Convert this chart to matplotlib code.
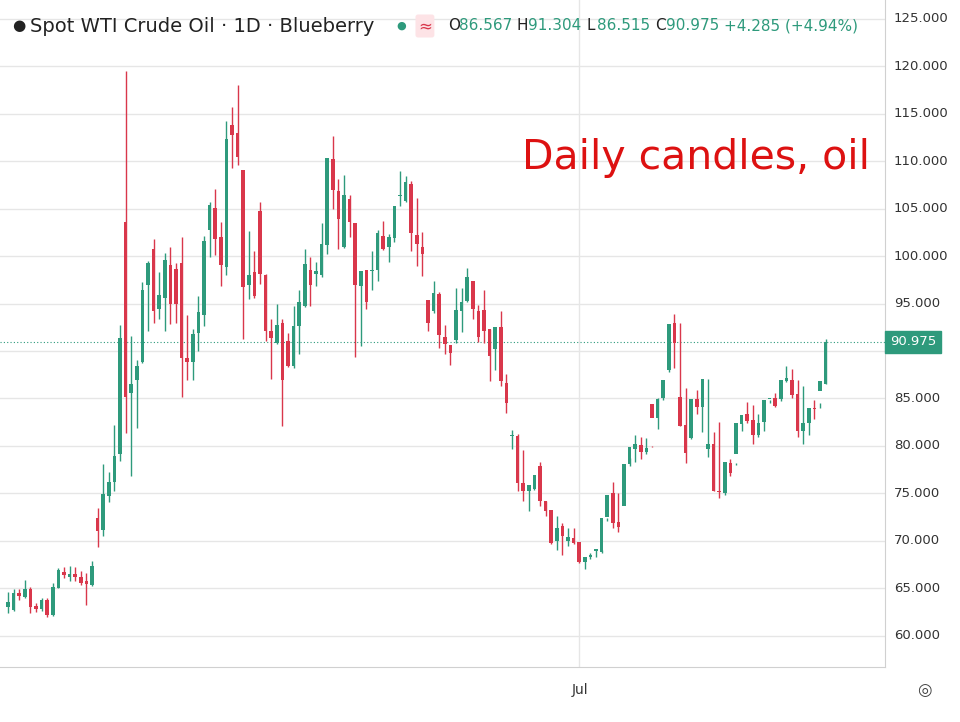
import numpy as np
import matplotlib.pyplot as plt

# ---- OHLC data ----
opens = [63.0, 62.7, 64.5, 64.1, 64.9, 63.1, 62.8, 63.8, 62.2, 65.0, 66.7, 66.2, 66.5, 66.2, 65.8, 65.3,
         72.4, 71.1, 74.7, 76.2, 79.2, 103.6, 85.6, 87.0, 88.8, 97.0, 100.8, 94.4, 95.6, 99.1, 98.6, 99.3,
         89.3, 88.8, 91.9, 93.8, 102.8, 105.1, 102.0, 98.9, 113.8, 113.0, 109.1, 97.0, 98.3, 104.8, 98.0,
         92.1, 90.8, 93.0, 91.1, 88.4, 92.6, 94.7, 98.5, 98.1, 98.0, 101.2, 110.2, 106.9, 101.0, 106.0,
         103.5, 96.9, 98.5, 98.4, 98.5, 102.1, 101.0, 101.9, 106.3, 105.8, 107.6, 102.2, 101.0, 95.4, 94.2,
         96.0, 91.5, 90.6, 91.2, 94.2, 95.3, 97.4, 94.2, 94.3, 92.3, 90.2, 92.5, 86.6, 81.0, 81.0, 76.1,
         75.3, 75.5, 77.9, 74.2, 73.2, 70.0, 71.6, 70.0, 70.3, 69.9, 67.8, 68.3, 68.9, 68.8, 72.5, 75.0,
         72.0, 73.7, 78.1, 79.7, 80.1, 79.4, 84.4, 82.9, 85.0, 88.0, 93.0, 85.2, 82.2, 80.8, 84.9, 84.1,
         79.7, 80.2, 75.3, 75.0, 78.2, 79.2, 82.3, 83.4, 82.7, 81.2, 82.5, 84.9, 85.1, 84.9, 86.8, 86.9,
         85.5, 81.6, 82.4, 84.0, 85.8, 86.567]
highs = [64.6, 64.9, 64.9, 65.9, 65.1, 63.4, 64.0, 64.0, 65.6, 67.1, 67.2, 67.3, 67.2, 66.8, 66.6, 67.9,
         73.5, 78.1, 77.3, 82.2, 92.7, 119.5, 91.6, 89.1, 97.3, 99.5, 101.8, 98.3, 100.3, 101.0, 99.3, 102.0,
         93.8, 92.3, 95.8, 102.1, 105.7, 107.1, 103.6, 114.2, 115.7, 118.0, 109.1, 102.7, 100.5, 105.7, 98.1,
         93.4, 95.0, 93.4, 91.9, 94.8, 96.4, 100.8, 99.9, 99.4, 103.5, 110.3, 112.7, 108.1, 108.6, 106.5,
         103.5, 98.4, 98.5, 100.5, 102.8, 103.7, 102.3, 105.3, 109.0, 108.5, 107.9, 106.1, 102.6, 95.4, 97.4,
         96.2, 92.7, 90.6, 96.6, 96.6, 98.8, 97.4, 94.9, 96.4, 92.3, 92.5, 94.2, 87.6, 81.7, 81.3, 79.6,
         75.9, 76.9, 78.3, 74.2, 73.2, 72.6, 71.9, 71.4, 71.3, 69.9, 68.3, 68.7, 69.1, 69.0, 72.4, 76.2,
         75.0, 72.9, 78.7, 81.2, 80.9, 80.8, 79.9, 85.1, 85.5, 89.0, 93.9, 93.0, 86.1, 82.6, 85.9, 86.2,
         87.1, 81.5, 82.5, 76.9, 78.6, 78.2, 82.4, 84.6, 84.3, 83.4, 82.8, 84.8, 85.6, 86.4, 88.4, 88.1,
         86.9, 86.3, 83.8, 84.8, 84.0, 91.304]
lows = [62.4, 62.6, 63.8, 64.0, 62.4, 62.5, 62.6, 62.0, 62.1, 65.0, 66.1, 65.8, 65.8, 65.3, 63.2, 65.2,
        69.3, 70.5, 74.1, 75.3, 78.4, 81.4, 76.8, 81.9, 88.7, 92.1, 93.0, 93.4, 92.1, 92.8, 93.0, 85.2,
        86.9, 87.0, 90.0, 92.6, 99.9, 100.1, 96.9, 98.0, 109.3, 109.6, 91.3, 95.5, 95.6, 97.1, 91.1,
        87.1, 90.7, 82.1, 88.3, 88.2, 89.7, 94.6, 94.8, 96.9, 97.8, 100.2, 105.0, 100.8, 100.9, 102.0,
        89.4, 90.5, 94.4, 96.4, 97.4, 100.7, 99.4, 101.5, 105.3, 105.7, 100.5, 99.0, 97.9, 92.1, 94.0,
        90.3, 89.7, 88.5, 90.8, 92.0, 95.2, 93.4, 91.0, 90.9, 86.8, 88.0, 86.3, 83.5, 79.7, 75.2, 74.2,
        73.1, 75.4, 73.7, 72.6, 69.7, 69.0, 68.5, 69.5, 69.7, 67.7, 67.0, 68.1, 68.3, 68.7, 72.1, 71.4,
        70.9, 72.9, 77.9, 78.3, 78.6, 79.2, 80.0, 81.8, 84.8, 87.8, 88.2, 82.1, 78.2, 80.7, 83.4, 81.5,
        78.8, 75.2, 74.5, 74.8, 76.8, 78.0, 81.6, 82.4, 80.2, 80.9, 81.6, 84.5, 84.1, 84.7, 86.7, 85.0,
        80.9, 80.2, 81.2, 82.8, 84.5, 86.515]
closes = [63.6, 64.5, 64.2, 64.9, 63.0, 62.8, 63.8, 62.2, 65.1, 66.9, 66.4, 66.5, 66.2, 65.6, 65.4, 67.3,
          71.0, 74.9, 76.2, 78.9, 91.4, 85.2, 86.5, 88.4, 96.4, 99.3, 94.2, 95.9, 99.6, 95.0, 95.0, 89.3,
          88.8, 91.8, 94.1, 101.6, 105.4, 101.8, 99.1, 112.3, 112.8, 110.4, 96.8, 98.0, 95.8, 98.1, 92.1,
          91.4, 92.7, 86.9, 88.4, 92.6, 95.2, 99.2, 97.0, 98.4, 101.3, 110.3, 107.0, 103.9, 106.4, 103.6,
          97.0, 98.4, 95.2, 98.5, 102.4, 100.8, 102.0, 105.3, 106.3, 107.8, 102.4, 101.3, 100.2, 93.0, 96.1,
          91.7, 90.7, 89.8, 94.3, 95.2, 97.8, 94.4, 91.5, 92.1, 89.5, 92.5, 86.8, 84.5, 81.1, 76.1, 75.2,
          75.9, 76.9, 74.2, 73.1, 69.8, 71.4, 70.5, 70.4, 69.8, 67.8, 68.3, 68.5, 69.1, 72.4, 74.8, 71.9,
          71.5, 78.1, 79.9, 80.2, 79.4, 79.8, 82.9, 84.9, 86.9, 92.9, 90.8, 82.1, 79.3, 84.9, 84.1, 87.1,
          80.2, 75.2, 75.1, 78.3, 77.1, 82.4, 83.3, 82.6, 81.2, 82.4, 84.8, 85.1, 84.2, 86.9, 87.2, 85.4,
          81.6, 82.4, 84.0, 83.9, 86.8, 90.975]
yticks = [60, 65, 70, 75, 80, 85, 90, 95, 100, 105, 110, 115, 120, 125]
jul_index = 102

UP = '#2e9a7c'
DOWN = '#d9374b'
YMIN, YMAX = 56.7, 127.0

W, H = 960, 722
fig = plt.figure(figsize=(W / 100, H / 100), dpi=100)
ax = fig.add_axes([0, 1 - 667 / H, 885 / W, 667 / H])

n = len(closes)
x = np.arange(n)
o = np.array(opens); c = np.array(closes)
hi = np.array(highs); lo = np.array(lows)
cols = [UP if cc >= oo else DOWN for oo, cc in zip(o, c)]

ax.vlines(x, lo, hi, colors=cols, lw=1, zorder=3)
bottom = np.minimum(o, c)
height = np.maximum(np.abs(c - o), 0.15)
ax.bar(x, height, bottom=bottom, width=0.65, color=cols, zorder=4)

ax.set_xlim(-1.43, 156.6)
ax.set_ylim(YMIN, YMAX)
for t in yticks:
    ax.axhline(t, color='#e6e6e6', lw=1, zorder=0)
ax.axvline(jul_index, color='#e6e6e6', lw=1, zorder=0)
ax.axhline(closes[-1], color='#2e9a7c', lw=0.8, ls=(0, (1, 2)), zorder=2)
ax.set_xticks([]); ax.set_yticks([])
for s in ['top', 'left']:
    ax.spines[s].set_visible(False)
for s in ['right', 'bottom']:
    ax.spines[s].set_color('#d0d0d0')


def fy(price):
    # price -> figure fraction
    return (1 - 667 / H) + (price - YMIN) / (YMAX - YMIN) * 667 / H


# price axis labels
for t in yticks:
    if abs(t - 90) < 0.01:
        continue
    fig.text(894 / W, fy(t), f'{t:.3f}', ha='left', va='center', fontsize=9.5, color='#333333')
fig.text(890 / W, fy(closes[-1]), f'{closes[-1]:.3f}', ha='left', va='center', fontsize=9.5,
         color='white', bbox=dict(boxstyle='square,pad=0.35', fc=UP, ec=UP))
fig.text(580 / W, 1 - 690 / H, 'Jul', ha='center', va='center', fontsize=10, color='#333333')
fig.text(924 / W, 1 - 690 / H, '◎', ha='center', va='center', fontsize=12, color='#444444')

# header
fig.text(12 / W, 1 - 26 / H, '●', fontsize=11, color='#222222', va='center')
fig.text(30 / W, 1 - 26 / H, 'Spot WTI Crude Oil · 1D · Blueberry', fontsize=14,
         color='#222222', va='center')
fig.text(396 / W, 1 - 26 / H, '●', fontsize=8, color=UP, va='center')
fig.text(418 / W, 1 - 26 / H, '≈', fontsize=12, color=DOWN, va='center',
         bbox=dict(boxstyle='round,pad=0.15', fc='#fde3e6', ec='none'))
xpos = 448
for lab, val in [('O', '86.567'), ('H', '91.304'), ('L', '86.515'), ('C', '90.975')]:
    fig.text(xpos / W, 1 - 26 / H, lab, fontsize=11, color='#222222', va='center')
    fig.text((xpos + 11) / W, 1 - 26 / H, val, fontsize=11, color=UP, va='center')
    xpos += 69
fig.text(724 / W, 1 - 26 / H, '+4.285 (+4.94%)', fontsize=11, color=UP, va='center')

ax.text(522 / 885, 1 - 158 / 667, 'Daily candles, oil', transform=ax.transAxes,
        fontsize=29.5, color='#dd1111', va='center', ha='left')

fig.savefig('out.png', dpi=100)
